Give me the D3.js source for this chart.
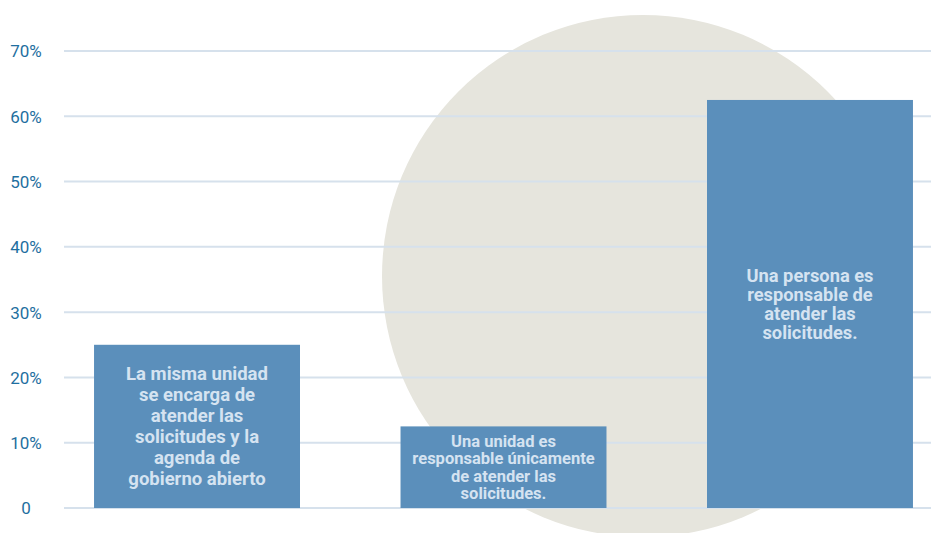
<!DOCTYPE html>
<html>
<head>
<meta charset="utf-8">
<script src="https://cdn.jsdelivr.net/npm/d3@7"></script>
<style>
  html, body { margin: 0; padding: 0; background: #ffffff; }
  svg { display: block; font-family: Roboto, "Noto Sans", sans-serif; }
</style>
</head>
<body>
<svg id="chart" width="931" height="533"></svg>
<script>
// Categories (bar labels, one array of lines per bar)
const categories = [
  ["La misma unidad", "se encarga de", "atender las", "solicitudes y la", "agenda de", "gobierno abierto"],
  ["Una unidad es", "responsable únicamente", "de atender las", "solicitudes."],
  ["Una persona es", "responsable de", "atender las", "solicitudes."]
];
// Share of responses per category (%)
const values = [25, 12.5, 62.5];
// Y-axis ticks
const yTicks = [0, 10, 20, 30, 40, 50, 60, 70];
const yTickLabels = ["0", "10%", "20%", "30%", "40%", "50%", "60%", "70%"];

// Label typography per bar
const labelFont = [
  { size: 18.5, lh: 21 },
  { size: 16.5, lh: 17.5 },
  { size: 18.3, lh: 19 }
];

const svg = d3.select("#chart");

const y = d3.scaleLinear().domain([0, 70]).range([508, 51]);
const x = d3.scaleBand()
  .domain(d3.range(values.length))
  .range([64, 943])
  .paddingInner(0.328)
  .paddingOuter(0.098);

// Decorative background disc
svg.append("circle")
  .attr("cx", 643).attr("cy", 276).attr("r", 261)
  .attr("fill", "#e6e5dd");

// Horizontal gridlines
svg.append("g")
  .selectAll("line")
  .data(yTicks)
  .join("line")
  .attr("x1", 64).attr("x2", 931)
  .attr("y1", d => y(d)).attr("y2", d => y(d))
  .attr("stroke", "#d6e1ec")
  .attr("stroke-width", 2);

// Y axis labels, centred in the left gutter
const yAxis = d3.axisLeft(y)
  .tickValues(yTicks)
  .tickFormat((d, i) => yTickLabels[i])
  .tickSize(0)
  .tickPadding(0);
const ga = svg.append("g").attr("transform", "translate(26,0)").call(yAxis);
ga.select(".domain").remove();
ga.selectAll("text")
  .attr("text-anchor", "middle")
  .attr("fill", "#1f6fa0")
  .attr("font-size", 17)
  .attr("font-family", "Roboto, sans-serif")
  .attr("dy", "0.35em");

// Bars
svg.append("g")
  .selectAll("rect")
  .data(values)
  .join("rect")
  .attr("x", (d, i) => x(i))
  .attr("y", d => y(d))
  .attr("width", x.bandwidth())
  .attr("height", d => y(0) - y(d))
  .attr("fill", "#5b8fbb");

// Bar labels, centred inside each bar
const lab = svg.append("g")
  .selectAll("text")
  .data(values)
  .join("text")
  .attr("text-anchor", "middle")
  .attr("fill", "#d5e3f1")
  .attr("font-weight", "bold")
  .attr("font-size", (d, i) => labelFont[i].size)
  .attr("x", (d, i) => x(i) + x.bandwidth() / 2)
  .attr("y", (d, i) => {
    const mid = (y(d) + y(0)) / 2;
    const n = categories[i].length;
    return mid - (n - 1) * labelFont[i].lh / 2;
  });

lab.each(function(d, i) {
  const t = d3.select(this);
  categories[i].forEach((line, j) => {
    t.append("tspan")
      .attr("x", x(i) + x.bandwidth() / 2)
      .attr("dy", j === 0 ? "0.35em" : labelFont[i].lh)
      .text(line);
  });
});
</script>
</body>
</html>
